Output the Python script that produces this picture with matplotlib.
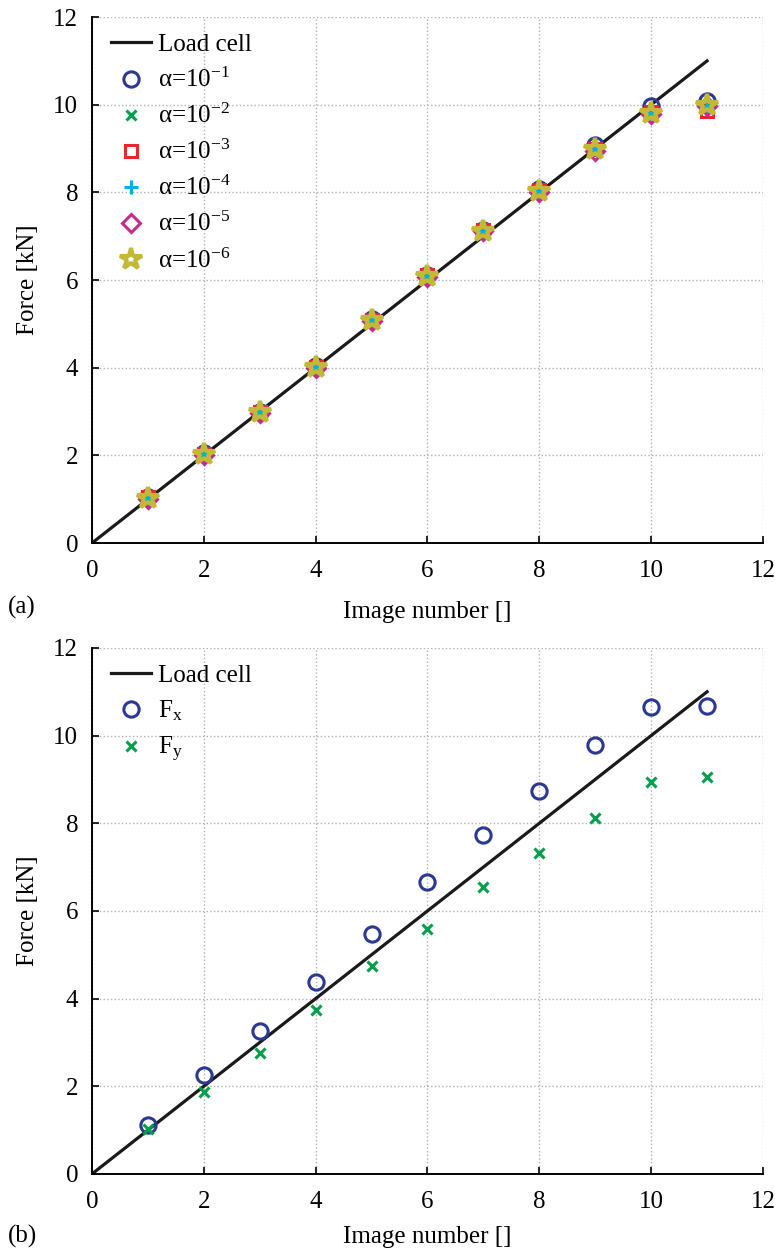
import numpy as np
import matplotlib
matplotlib.use('Agg')
import matplotlib.pyplot as plt

plt.rcParams['font.family'] = ['Liberation Serif', 'DejaVu Serif']
plt.rcParams['mathtext.fontset'] = 'custom'
plt.rcParams['mathtext.rm'] = 'Liberation Serif'
plt.rcParams['mathtext.it'] = 'Liberation Serif:italic'

# data
images = [1, 2, 3, 4, 5, 6, 7, 8, 9, 10, 11]
load_x = [0, 11]
load_y = [0, 11]

alpha_1 = [1.05, 2.05, 3.00, 4.03, 5.10, 6.12, 7.15, 8.07, 9.08, 9.97, 10.08]
alpha_2 = [1.03, 2.03, 2.98, 4.01, 5.08, 6.10, 7.13, 8.04, 8.98, 9.82, 9.98]
alpha_3 = [1.04, 2.04, 2.99, 4.02, 5.09, 6.11, 7.14, 8.05, 8.99, 9.84, 9.86]
alpha_4 = [1.03, 2.03, 2.98, 4.01, 5.08, 6.10, 7.13, 8.04, 8.98, 9.82, 9.98]
alpha_5 = [1.01, 2.01, 2.96, 3.99, 5.06, 6.08, 7.11, 8.02, 8.95, 9.79, 9.96]
alpha_6 = [1.03, 2.03, 2.98, 4.01, 5.08, 6.10, 7.13, 8.04, 8.98, 9.82, 9.99]

fx = [1.11, 2.25, 3.25, 4.37, 5.48, 6.65, 7.73, 8.73, 9.78, 10.66, 10.68]
fy = [1.03, 1.86, 2.77, 3.73, 4.75, 5.59, 6.55, 7.33, 8.12, 8.93, 9.06]

alpha_labels = [r'α=10$^{\mathregular{-%d}}$' % k for k in range(1, 7)]
ticks = [0, 2, 4, 6, 8, 10, 12]

FS = 18
BLUE = '#2b3990'
GREEN = '#00a04b'
RED = '#e8262b'
CYAN = '#00b0e0'
MAGENTA = '#c8298c'
OLIVE = '#c3b837'


def style_axes(ax, xlabelpad=14):
    ax.set_xlim(0, 12)
    ax.set_ylim(0, 12)
    ax.set_xticks(ticks)
    ax.set_yticks(ticks)
    ax.spines['top'].set_visible(False)
    ax.spines['right'].set_visible(False)
    ax.spines['left'].set_linewidth(1.4)
    ax.spines['bottom'].set_linewidth(1.4)
    ax.tick_params(direction='in', length=5, width=1.2, labelsize=FS)
    ax.tick_params(axis='x', pad=12)
    ax.tick_params(axis='y', pad=10)
    ax.grid(True, linestyle=':', color='#b0b0b0', linewidth=1.0)
    ax.set_axisbelow(True)
    ax.set_xlabel('Image number []', fontsize=FS, labelpad=xlabelpad)
    ax.set_ylabel('Force [kN]', fontsize=FS, labelpad=10)
    for s in ax.spines.values():
        s.set_zorder(5)


def add_legend(ax):
    ax.legend(loc='upper left', bbox_to_anchor=(0.009, 0.992), frameon=False,
              fontsize=FS, handlelength=1.6, handletextpad=0.3,
              labelspacing=0.47, borderaxespad=0.2, borderpad=0.3)


fig = plt.figure(figsize=(7.75, 12.53), dpi=100)
ax1 = fig.add_axes([0.1187, 0.5666, 0.8658, 0.4198])
ax2 = fig.add_axes([0.1187, 0.0631, 0.8658, 0.4198])

# (a)
ax1.plot(load_x, load_y, color='#1a1a1a', lw=2.3, label='Load cell', zorder=3)
ax1.plot(images, alpha_1, 'o', ls='none', color=BLUE, mfc='none', ms=11, mew=2.2,
         label=alpha_labels[0], zorder=4)
ax1.plot(images, alpha_2, 'x', ls='none', color=GREEN, ms=7, mew=2.2,
         label=alpha_labels[1], zorder=4)
ax1.plot(images, alpha_3, 's', ls='none', color=RED, mfc='none', ms=9, mew=2.2,
         label=alpha_labels[2], zorder=4)
ax1.plot(images, alpha_4, '+', ls='none', color=CYAN, ms=10, mew=2.2,
         label=alpha_labels[3], zorder=4)
ax1.plot(images, alpha_5, 'D', ls='none', color=MAGENTA, mfc='none', ms=9, mew=2.2,
         label=alpha_labels[4], zorder=4)
ax1.plot(images, alpha_6, '*', ls='none', color=OLIVE, mfc='none', ms=16, mew=3.0,
         label=alpha_labels[5], zorder=4)
style_axes(ax1)
add_legend(ax1)

# (b)
ax2.plot(load_x, load_y, color='#1a1a1a', lw=2.3, label='Load cell', zorder=3)
ax2.plot(images, fx, 'o', ls='none', color=BLUE, mfc='none', ms=11, mew=2.2,
         label=r'F$_{\mathregular{x}}$', zorder=4)
ax2.plot(images, fy, 'x', ls='none', color=GREEN, ms=7, mew=2.2,
         label=r'F$_{\mathregular{y}}$', zorder=4)
style_axes(ax2, xlabelpad=10)
add_legend(ax2)

fig.text(8 / 775, 1 - 607 / 1253, '(a)', fontsize=FS, va='center', ha='left')
fig.text(8 / 775, 1 - 1236 / 1253, '(b)', fontsize=FS, va='center', ha='left')

fig.savefig('out.png', dpi=100)
